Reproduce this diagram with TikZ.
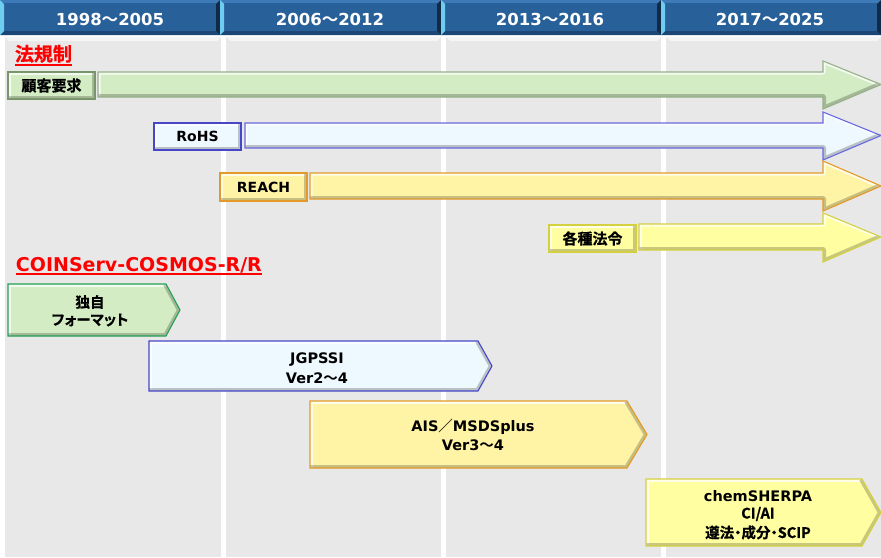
\documentclass[tikz,border=0pt]{standalone}
\usepackage{fontspec}
\setmainfont{DejaVu Sans}
\newfontfamily\jp{Noto Sans CJK JP Bold}[RawFeature=+palt, FakeBold=0.8]
\newfontfamily\jpf{Noto Sans CJK JP Bold}
\newcommand\nami{{\mdseries\jpf ～}}
\newcommand\zsl{{\mdseries\jpf ／}}
\definecolor{hdr}{RGB}{40,96,153}
\definecolor{hdrhi}{RGB}{62,122,184}
\definecolor{hdrcy}{RGB}{110,205,240}
\definecolor{hdrdk}{RGB}{16,42,72}
\definecolor{hdrbot}{RGB}{28,70,118}
\definecolor{panel}{RGB}{232,232,232}
\definecolor{panelhi}{RGB}{245,245,245}
\definecolor{grnfill}{RGB}{211,236,196}
\definecolor{grnbox}{RGB}{120,150,106}
\definecolor{grnarr}{RGB}{150,176,136}
\definecolor{grnpen}{RGB}{34,160,84}
\definecolor{blufill}{RGB}{238,248,255}
\definecolor{bluline}{RGB}{70,70,200}
\definecolor{bluarr}{RGB}{106,106,224}
\definecolor{orafill}{RGB}{255,244,166}
\definecolor{oraline}{RGB}{228,154,40}
\definecolor{yelfill}{RGB}{255,255,162}
\definecolor{yelline}{RGB}{212,208,64}
\newcommand\bevel[5]{%
  \fill[#1] #5;
  \begin{scope}
    \clip #5;
    \draw[white, opacity=.75, line width=5pt, line join=round] #3;
    \draw[black, opacity=.22, line width=6pt, line join=round] #4;
  \end{scope}
  \draw[#2, line width=1.1pt, line join=miter] #5;
}
\newcommand\regarrow[7]{%
  \pgfmathsetmacro\cc{(#4+#5)/2}%
  \bevel{#1}{#2}{(#3,#5) -- (#3,#4) -- (823,#4) -- (823,#6) -- (881,\cc)}{(881,\cc) -- (823,#7) -- (823,#5) -- (#3,#5)}{(#3,#4) -- (823,#4) -- (823,#6) -- (881,\cc) -- (823,#7) -- (823,#5) -- (#3,#5) -- cycle}}
\newcommand\chevron[7]{%
  \pgfmathsetmacro\cc{(#4+#7)/2}%
  \bevel{#1}{#2}{(#3,#7) -- (#3,#4) -- (#5,#4)}{(#5,#4) -- (#6,\cc) -- (#5,#7) -- (#3,#7)}{(#3,#4) -- (#5,#4) -- (#6,\cc) -- (#5,#7) -- (#3,#7) -- cycle}}
\newcommand\hcell[2]{%
  \fill[hdr] (#1,0) rectangle (#2,35);
  \fill[hdrhi] (#1,0) rectangle (#2,3);
  \fill[hdrbot] (#1,35) -- (#1+4,31) -- (#2-4,31) -- (#2,35) -- cycle;
  \fill[hdrcy] (#1,0) -- (#1+4,4) -- (#1+4,31) -- (#1,35) -- cycle;
  \fill[hdrdk] (#2,0) -- (#2-4,4) -- (#2-4,31) -- (#2,35) -- cycle;
}
\newcommand\pcol[2]{%
  \fill[panel] (#1,37) rectangle (#2,557);
  \fill[panelhi] (#1,37) -- (#2,37) -- (#2-4,41) -- (#1+4,41) -- cycle;
}
\begin{document}
\begin{tikzpicture}[x=1pt,y=-1pt,
  every node/.style={inner sep=0pt, outer sep=0pt},
  hdrtext/.style={text=white, font=\fontsize{16.5}{20}\selectfont\bfseries},
  jptitle/.style={text=red, font=\fontsize{19}{22}\selectfont\jp},
  lattitle/.style={text=red, font=\fontsize{19}{22}\selectfont\bfseries},
  boxlat/.style={font=\fontsize{14}{17}\selectfont\bfseries},
  boxjp/.style={font=\fontsize{15}{18}\selectfont\jp},
  plat/.style={font=\fontsize{14.5}{18}\selectfont\bfseries},
  pjp/.style={font=\fontsize{14.5}{18}\selectfont\jp},
]
\useasboundingbox (0,0) rectangle (881,557);
\fill[white] (0,0) rectangle (881,557);
% panels
\pcol{5}{221}
\pcol{226}{441}
\pcol{446}{661}
\pcol{666}{881}
% header
\hcell{0}{220}
\hcell{220}{441}
\hcell{441}{661}
\hcell{661}{881}
\node[hdrtext] (h1) at (110,19) {1998\nami2005};
\node[hdrtext] (h2) at (330,19) {2006\nami2012};
\node[hdrtext] (h3) at (550,19) {2013\nami2016};
\node[hdrtext] (h4) at (770,19) {2017\nami2025};
% titles
\node[jptitle, anchor=base west] (t1) at (15,61) {法規制};
\draw[red, line width=1.6pt] ([yshift=-4pt]t1.base west) -- ([yshift=-4pt]t1.base east);
\node[lattitle, anchor=base west] (t2) at (16,271) {COINServ-COSMOS-R/R};
\draw[red, line width=1.6pt] ([yshift=-3pt]t2.base west) -- ([yshift=-3pt]t2.base east);
% regulation rows
\bevel{grnfill}{grnbox}{(8,99) -- (8,72) -- (95,72)}{(95,72) -- (95,99) -- (8,99)}{(8,72) rectangle (95,99)}
\node[boxjp] (kokyaku) at (51.5,85.5) {顧客要求};
\regarrow{grnfill}{grnarr}{98}{72}{97}{61}{109}

\bevel{blufill}{bluline}{(154,150) -- (154,123) -- (241,123)}{(241,123) -- (241,150) -- (154,150)}{(154,123) rectangle (241,150)}
\node[boxlat] (rohs) at (197.5,136.5) {RoHS};
\regarrow{blufill}{bluarr}{245}{123}{148}{112}{160}

\bevel{orafill}{oraline}{(220,201) -- (220,173) -- (307,173)}{(307,173) -- (307,201) -- (220,201)}{(220,173) rectangle (307,201)}
\node[boxlat] (reach) at (263.5,187) {REACH};
\regarrow{orafill}{oraline}{310}{173}{199}{161}{211}

\bevel{yelfill}{yelline}{(549,252) -- (549,225) -- (636,225)}{(636,225) -- (636,252) -- (549,252)}{(549,225) rectangle (636,252)}
\node[boxjp] (kakushu) at (592.5,238.5) {各種法令};
\regarrow{yelfill}{yelline}{639}{224}{250}{213}{262}
% formats
\chevron{grnfill}{grnpen}{8}{284}{166}{180}{336}
\node[pjp] (p1a) at (90,302) {独自};
\node[pjp] (p1b) at (90,320) {フォーマット};

\chevron{blufill}{bluline}{149}{341}{478}{492}{391}
\node[plat, anchor=base] (p2a) at (317,363) {JGPSSI};
\node[plat, anchor=base] (p2b) at (317,383) {Ver2\nami4};

\chevron{orafill}{oraline}{310}{401}{627}{647}{468}
\node[plat, anchor=base] (p3a) at (473,431) {AIS\zsl MSDSplus};
\node[plat, anchor=base] (p3b) at (473,450) {Ver3\nami4};

\chevron{yelfill}{yelline}{646}{479}{862}{881}{546}
\node[plat, anchor=base] (p4a) at (758,501) {chemSHERPA};
\node[pjp] (p4b) at (758,514) {CI/AI};
\node[pjp] (p4c) at (758,532.5) {遵法・成分・SCIP};
\end{tikzpicture}
\end{document}
